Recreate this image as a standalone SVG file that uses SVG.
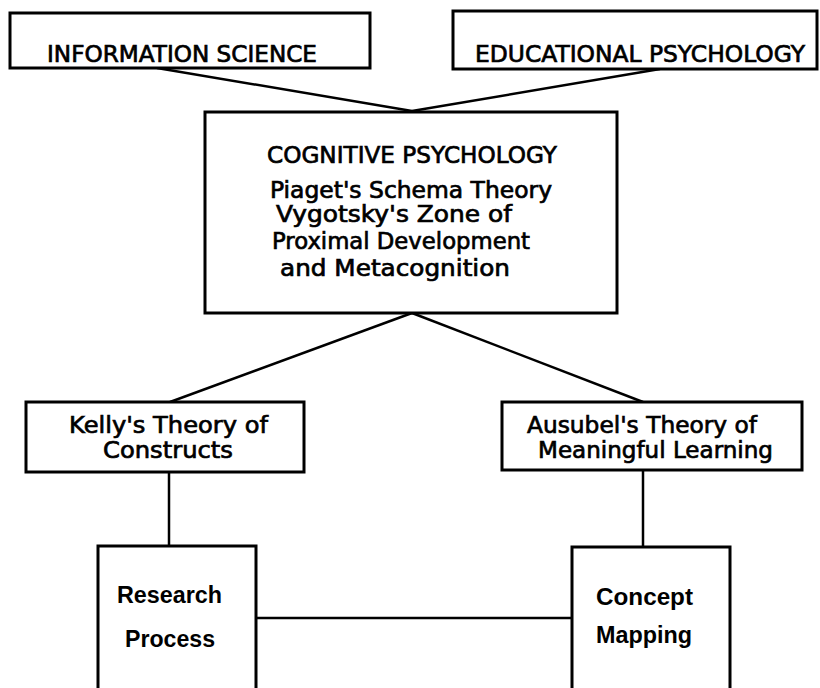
<svg xmlns="http://www.w3.org/2000/svg" width="820" height="688" viewBox="0 0 820 688">
<style>
.box{fill:#fff;stroke:#000;stroke-width:3}
.ln{fill:none;stroke:#000;stroke-width:2.5}
text{font-family:"DejaVu Sans","Liberation Sans",Arial,sans-serif;font-size:23px;fill:#000;stroke:#000;stroke-width:0.7}
.b{font-family:"Liberation Sans",Arial,sans-serif;font-weight:bold;font-size:23px;stroke-width:0}
</style>
<rect width="820" height="688" fill="#fff"/>
<g id="connectors">
<path class="ln" d="M157,68 L412,111"/>
<path class="ln" d="M660,69 L412,111"/>
<path class="ln" d="M412,313 L170,402"/>
<path class="ln" d="M412,313 L643,402"/>
<path class="ln" d="M169,472 L169,546"/>
<path class="ln" d="M643,470 L643,547"/>
<path class="ln" d="M256,618 L572,618"/>
</g>
<g id="info-science">
<rect class="box" x="10" y="13" width="360" height="55"/>
<text x="47" y="62" textLength="270" lengthAdjust="spacingAndGlyphs">INFORMATION SCIENCE</text>
</g>
<g id="educational-psychology">
<rect class="box" x="453" y="11" width="364" height="58"/>
<text x="475" y="62" textLength="330" lengthAdjust="spacingAndGlyphs">EDUCATIONAL PSYCHOLOGY</text>
</g>
<g id="cognitive-psychology">
<rect class="box" x="205" y="112" width="412" height="201"/>
<text x="267" y="163" textLength="290" lengthAdjust="spacingAndGlyphs">COGNITIVE PSYCHOLOGY</text>
<text x="270" y="198" textLength="282" lengthAdjust="spacingAndGlyphs">Piaget's Schema Theory</text>
<text x="276" y="222" textLength="236" lengthAdjust="spacingAndGlyphs">Vygotsky's Zone of</text>
<text x="272" y="249" textLength="258" lengthAdjust="spacingAndGlyphs">Proximal Development</text>
<text x="280" y="276" textLength="230" lengthAdjust="spacingAndGlyphs">and Metacognition</text>
</g>
<g id="kelly">
<rect class="box" x="26" y="402" width="278" height="70"/>
<text x="69" y="433" textLength="199" lengthAdjust="spacingAndGlyphs">Kelly's Theory of</text>
<text x="103" y="458" textLength="130" lengthAdjust="spacingAndGlyphs">Constructs</text>
</g>
<g id="ausubel">
<rect class="box" x="502" y="402" width="300" height="68"/>
<text x="527" y="433" textLength="230" lengthAdjust="spacingAndGlyphs">Ausubel's Theory of</text>
<text x="538" y="458" textLength="235" lengthAdjust="spacingAndGlyphs">Meaningful Learning</text>
</g>
<g id="research-process">
<rect class="box" x="98" y="546" width="158" height="160"/>
<text class="b" x="117" y="603" textLength="105" lengthAdjust="spacingAndGlyphs">Research</text>
<text class="b" x="125" y="647" textLength="90" lengthAdjust="spacingAndGlyphs">Process</text>
</g>
<g id="concept-mapping">
<rect class="box" x="572" y="547" width="158" height="160"/>
<text class="b" x="596" y="605" textLength="97" lengthAdjust="spacingAndGlyphs">Concept</text>
<text class="b" x="596" y="643" textLength="96" lengthAdjust="spacingAndGlyphs">Mapping</text>
</g>
</svg>
